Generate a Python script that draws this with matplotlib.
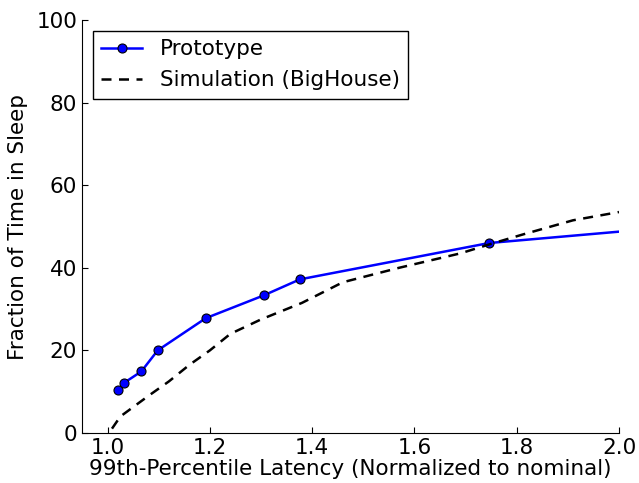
import matplotlib
matplotlib.use("Agg")
import matplotlib.pyplot as plt

# prototype measurements
proto_latency = [1.02, 1.033, 1.066, 1.098, 1.192, 1.305, 1.376, 1.746, 2.3]
proto_sleep = [10.3, 12.2, 14.9, 20.0, 27.8, 33.3, 37.2, 46.0, 52.0]

# BigHouse simulation
sim_latency = [0.99, 1.0, 1.025, 1.08, 1.12, 1.16, 1.2, 1.24, 1.30, 1.38, 1.46, 1.57, 1.69, 1.75, 1.81, 1.91, 2.0]
sim_sleep = [-2.5, -0.5, 4.0, 9.0, 12.5, 16.5, 20.0, 24.0, 27.5, 31.5, 36.5, 40.0, 43.5, 45.8, 48.0, 51.5, 53.5]

fs = 15.5

fig = plt.figure(figsize=(6.39, 4.83), dpi=100)
ax = fig.add_axes([82 / 639, 50 / 483, 537 / 639, 413 / 483])

ax.plot(proto_latency, proto_sleep, color="blue", lw=1.8, marker="o",
        markersize=6.5, markerfacecolor="blue", markeredgecolor="black",
        markeredgewidth=0.8, label="Prototype")
ax.plot(sim_latency, sim_sleep, color="black", lw=1.8, linestyle=(0, (4, 3)),
        label="Simulation (BigHouse)")

ax.set_xlim(0.95, 2.0)
ax.set_ylim(0, 100)
ax.set_xticks([1.0, 1.2, 1.4, 1.6, 1.8, 2.0])
ax.set_yticks([0, 20, 40, 60, 80, 100])

ax.spines["top"].set_visible(False)
ax.spines["right"].set_visible(False)
ax.tick_params(direction="in", length=4, labelsize=fs, top=False, right=False)

ax.set_xlabel("99th-Percentile Latency (Normalized to nominal)", fontsize=fs, labelpad=1)
ax.set_ylabel("Fraction of Time in Sleep", fontsize=fs, labelpad=6)

leg = ax.legend(loc="upper left", fontsize=fs, fancybox=False, framealpha=1,
                edgecolor="black", handlelength=1.9, handletextpad=0.8,
                borderaxespad=0.5)
leg.get_frame().set_linewidth(1.0)

fig.savefig("out.png", dpi=100)
